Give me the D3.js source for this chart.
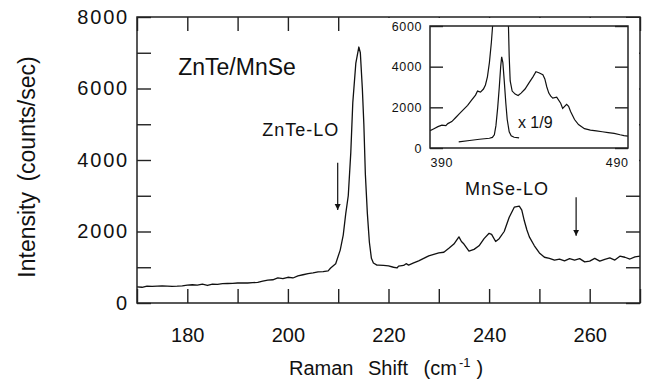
<!DOCTYPE html>
<html>
<head>
<meta charset="utf-8">
<script src="https://cdn.jsdelivr.net/npm/d3@7"></script>
<style>
  body { margin: 0; background: #fff; }
  svg { display: block; font-family: "Liberation Sans", Arial, sans-serif; }
  .ax text { fill: #111; }
  .ax line { stroke: #222; stroke-width: 1.4; }
</style>
</head>
<body>
<div id="chart"></div>
<script>
// Raman spectrum, main panel (Raman shift cm-1, counts/sec)
const shift = [170,171,172,173,174,175,176,177,178,179,180,181,182,183,184,185,186,187,188,189,
  190,191,192,193,194,195,196,197,198,199,200,201,202,203,204,205,206,207,208,208.5,209.5,210.4,
  211,211.5,212,212.5,212.9,213.5,214.1,214.4,214.8,215.1,215.4,215.8,216.2,216.6,217,217.7,
  218,219,220,221,221.7,222,223,223.5,224,225,226,227,228,229,230,231,232,233,234,234.5,235,236,
  237,238,239,240,240.5,241.3,242,243,244,245,246,246.5,247,247.5,248,249,250,251,252,253,254,
  255,256,257,258,259,260,261,262,263,264,265,266,267,268,269,270];
const counts = [450,440,470,465,470,475,470,465,470,480,500,510,500,530,490,530,520,540,545,550,
  560,565,560,570,575,610,640,650,700,680,720,700,760,790,820,840,870,880,900,980,1100,1480,
  1900,2500,3000,4200,5600,6700,7160,7000,6000,5000,3600,2500,1700,1250,1120,1060,
  1060,1050,1040,1000,980,1030,1050,1100,1060,1120,1180,1250,1320,1360,1400,1420,1530,1650,1850,1720,1650,1450,
  1500,1600,1800,1950,1920,1720,1800,2000,2400,2680,2710,2600,2300,2050,1850,1600,1400,1280,1250,1200,1230,
  1180,1240,1200,1240,1150,1170,1250,1170,1220,1260,1200,1310,1280,1230,1290,1310];

// inset: wide range spectrum and the same scaled by 1/9
const insetShift = [390,392,394,396,398,399,401,403,405,407,409,411,413,414,415.5,417,418,419,420,421,422,424,426.4,428.5,
  429.5,430,430.5,431.5,433,434.5,436,438,440,442,443.5,445,446,447,448,449,450,451,452,454,456,457,459,460,461,462,463,
  465,468,471,474,477,480,483,486,488,490];
const insetCounts = [850,950,1050,1120,1100,1200,1300,1500,1700,1900,2100,2350,2600,2800,2750,2900,3100,3500,4200,5200,6500,15000,40500,15000,
  6500,4500,3300,2800,2650,2580,2700,2900,3200,3500,3750,3700,3650,3600,3400,3000,2700,2550,2450,2500,2200,1950,2150,2050,1800,1600,1400,
  1150,950,880,840,800,760,720,650,610,580];
const scaledShift = [404.5,410,415,420,421.5,422.5,423.3,424.2,425,425.7,426.2,426.8,427.5,428.3,429,430,431,432.5,435];
const scaledCounts = [300,370,430,480,520,650,1100,2000,3000,4000,4480,4200,3300,2200,1400,800,600,530,500];

const xTicks = d3.range(170, 271, 10);
const yTicks = d3.range(0, 8001, 1000);
const insetYTicks = [0, 2000, 4000, 6000];
const insetXLabels = [390, 490];

// annotations: [label, shift, counts, font size]
const labels = [["ZnTe/MnSe", 178.2, 6380, 23], ["ZnTe-LO", 194.9, 4670, 18], ["MnSe-LO", 235.2, 3020, 18]];
const arrows = [[209.9, 3920, 2600], [257.3, 2960, 1880]];

const W = 648, H = 392;
const m = { left: 137, right: 8, top: 17, bottom: 89 };

const svg = d3.select("#chart").append("svg")
  .attr("width", W).attr("height", H);

svg.append("defs").append("marker")
  .attr("id", "head")
  .attr("viewBox", "0 0 10 10")
  .attr("refX", 10).attr("refY", 5)
  .attr("markerWidth", 6).attr("markerHeight", 7)
  .attr("markerUnits", "userSpaceOnUse")
  .attr("orient", "auto")
  .append("path").attr("d", "M0,0L10,5L0,10Z").attr("fill", "#111");

const x = d3.scaleLinear().domain([170, 270]).range([m.left, W - m.right]);
const y = d3.scaleLinear().domain([0, 8000]).range([H - m.bottom, m.top]);

// axes with inward ticks
svg.append("g").attr("class", "ax")
  .attr("transform", `translate(0,${y(0)})`)
  .call(d3.axisBottom(x).tickValues(xTicks).tickSize(-14).tickPadding(25)
    .tickFormat(d => d % 20 === 0 ? d : ""))
  .call(g => g.select(".domain").remove())
  .selectAll("text").style("font-size", "20px");

svg.append("g").attr("class", "ax")
  .attr("transform", `translate(0,${y(8000)})`)
  .call(d3.axisTop(x).tickValues(xTicks).tickSize(-14).tickFormat(""))
  .call(g => g.select(".domain").remove());

svg.append("g").attr("class", "ax")
  .attr("transform", `translate(${x(170)},0)`)
  .call(d3.axisLeft(y).tickValues(yTicks).tickSize(-14).tickPadding(8)
    .tickFormat(d => d % 2000 === 0 ? d : ""))
  .call(g => g.select(".domain").remove())
  .selectAll("text").style("font-size", "20px").style("letter-spacing", "1.8px");

svg.append("g").attr("class", "ax")
  .attr("transform", `translate(${x(270)},0)`)
  .call(d3.axisRight(y).tickValues(yTicks).tickSize(-14).tickFormat(""))
  .call(g => g.select(".domain").remove());

// spectrum
const line = d3.line().x(d => x(d[0])).y(d => y(d[1]));
svg.append("path")
  .datum(d3.zip(shift, counts))
  .attr("d", line)
  .attr("fill", "none")
  .attr("stroke", "#111")
  .attr("stroke-width", 1.3)
  .attr("stroke-linejoin", "round");

// white area behind the inset hides the top/right ticks
svg.append("rect")
  .attr("x", 386).attr("y", y(8000) + 1)
  .attr("width", x(270) - 387).attr("height", 155)
  .attr("fill", "#fff");

// frame
svg.append("rect")
  .attr("x", x(170)).attr("y", y(8000))
  .attr("width", x(270) - x(170)).attr("height", y(0) - y(8000))
  .attr("fill", "none").attr("stroke", "#222").attr("stroke-width", 1.5);

// labels and arrows
svg.selectAll(".lab").data(labels).enter().append("text")
  .attr("class", "lab")
  .attr("x", d => x(d[1])).attr("y", d => y(d[2]))
  .style("font-size", d => d[3] + "px")
  .style("letter-spacing", d => d[3] < 20 ? "1px" : "0px")
  .attr("fill", "#111")
  .text(d => d[0]);

svg.selectAll(".arr").data(arrows).enter().append("line")
  .attr("class", "arr")
  .attr("x1", d => x(d[0])).attr("x2", d => x(d[0]))
  .attr("y1", d => y(d[1])).attr("y2", d => y(d[2]))
  .attr("stroke", "#111").attr("stroke-width", 1.2)
  .attr("marker-end", "url(#head)");

// axis titles
const xt = svg.append("text")
  .attr("x", 289).attr("y", 375)
  .style("font-size", "20px")
  .attr("fill", "#111");
xt.append("tspan").style("word-spacing", "9px").text("Raman Shift ");
xt.append("tspan").attr("dx", 1).text("(cm");
xt.append("tspan").attr("dy", -8).attr("dx", 2).style("font-size", "13px").text("-1");
xt.append("tspan").attr("dy", 8).attr("dx", 6).text(")");

svg.append("text")
  .attr("transform", "translate(35,167) rotate(-90)")
  .attr("text-anchor", "middle")
  .style("font-size", "23px").style("word-spacing", "4px")
  .attr("fill", "#111")
  .text("Intensity (counts/sec)");

// ---- inset
const ix = d3.scaleLinear().domain([390, 490]).range([430, 628]);
const iy = d3.scaleLinear().domain([0, 6000]).range([148, 26]);

svg.append("clipPath").attr("id", "iclip")
  .append("rect")
  .attr("x", ix(390)).attr("y", iy(6000))
  .attr("width", ix(490) - ix(390)).attr("height", iy(0) - iy(6000));

const inset = svg.append("g");

inset.append("g").attr("class", "ax")
  .attr("transform", `translate(${ix(390)},0)`)
  .call(d3.axisLeft(iy).tickValues(insetYTicks).tickSize(-13).tickPadding(8).tickFormat(d3.format("d")))
  .call(g => g.select(".domain").remove())
  .selectAll("text").style("font-size", "12.5px").style("letter-spacing", "0.6px");

inset.append("g").attr("class", "ax")
  .attr("transform", `translate(${ix(490)},0)`)
  .call(d3.axisRight(iy).tickValues(insetYTicks).tickSize(-13).tickFormat(""))
  .call(g => g.select(".domain").remove());

inset.append("g").attr("class", "ax")
  .attr("transform", `translate(0,${iy(0)})`)
  .call(d3.axisBottom(ix).tickValues(insetXLabels).tickSize(0).tickPadding(10).tickFormat(d3.format("d")))
  .call(g => g.select(".domain").remove())
  .selectAll("text").style("font-size", "12.5px").style("letter-spacing", "0.6px")
  .attr("text-anchor", (d, i) => i === 0 ? "start" : "end");

const iline = d3.line().x(d => ix(d[0])).y(d => iy(d[1]));
inset.append("path")
  .datum(d3.zip(insetShift, insetCounts))
  .attr("d", iline)
  .attr("clip-path", "url(#iclip)")
  .attr("fill", "none").attr("stroke", "#111").attr("stroke-width", 1.2);

inset.append("path")
  .datum(d3.zip(scaledShift, scaledCounts))
  .attr("d", iline)
  .attr("fill", "none").attr("stroke", "#111").attr("stroke-width", 1.2);

inset.append("text")
  .attr("x", ix(434.4)).attr("y", iy(990))
  .style("font-size", "16px")
  .attr("fill", "#111")
  .text("x 1/9");

inset.append("rect")
  .attr("x", ix(390)).attr("y", iy(6000))
  .attr("width", ix(490) - ix(390)).attr("height", iy(0) - iy(6000))
  .attr("fill", "none").attr("stroke", "#222").attr("stroke-width", 1.5);
</script>
</body>
</html>
